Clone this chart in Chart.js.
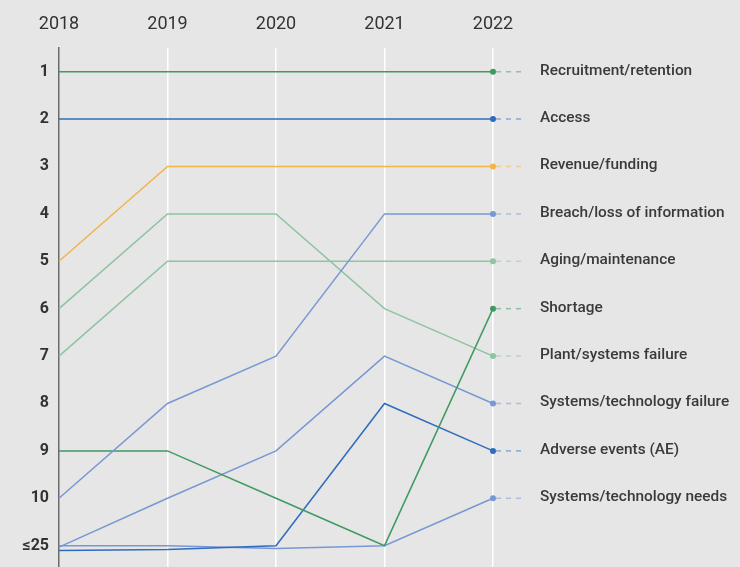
<!DOCTYPE html>
<html>
<head>
<meta charset="utf-8">
<script src="https://cdn.jsdelivr.net/npm/chart.js@4/dist/chart.umd.min.js"></script>
<style>
  html, body { margin: 0; padding: 0; background: #e5e6e5; }
  #wrap { width: 740px; height: 567px; }
</style>
</head>
<body>
<div id="wrap"><canvas id="grafico"></canvas></div>
<script>
const years = ['2018', '2019', '2020', '2021', '2022'];
const rankTicks = [1, 2, 3, 4, 5, 6, 7, 8, 9, 10, 11];
const rankLabels = ['1', '2', '3', '4', '5', '6', '7', '8', '9', '10', '≤25'];

// ranks per year (11 = "≤25", small offsets where lines overlap)
const recruitment = [1, 1, 1, 1, 1];
const access = [2, 2, 2, 2, 2];
const revenue = [5, 3, 3, 3, 3];
const breach = [10, 8, 7, 4, 4];
const aging = [7, 5, 5, 5, 5];
const shortage = [9, 9, 10, 11, 6];
const plantFailure = [6, 4, 4, 6, 7];
const techFailure = [11.03, 10, 9, 7, 8];
const adverse = [11.1, 11.08, 11, 8, 9];
const techNeeds = [11, 11, 11.06, 11, 10];

const seriesNames = ['Recruitment/retention', 'Access', 'Revenue/funding', 'Breach/loss of information',
  'Aging/maintenance', 'Shortage', 'Plant/systems failure', 'Systems/technology failure',
  'Adverse events (AE)', 'Systems/technology needs'];
const seriesData = [recruitment, access, revenue, breach, aging, shortage, plantFailure, techFailure, adverse, techNeeds];

const darkGreen = '#3f9a62';
const blue = '#2f6cbf';
const orange = '#f2b54a';
const lightBlue = '#7898d4';
const lightGreen = '#8cc5a0';
const seriesColors = [darkGreen, blue, orange, lightBlue, lightGreen, darkGreen, lightGreen, lightBlue, blue, lightBlue];

const fondo = {
  id: 'fondo',
  beforeDraw(chart) {
    const ctx = chart.ctx;
    ctx.save();
    ctx.fillStyle = '#e5e6e5';
    ctx.fillRect(0, 0, chart.width, chart.height);
    ctx.restore();
  }
};

// dashed tail + name next to the last point
const etiquetas = {
  id: 'etiquetas',
  afterDatasetsDraw(chart) {
    const ctx = chart.ctx;
    ctx.save();
    chart.data.datasets.forEach((ds, i) => {
      const meta = chart.getDatasetMeta(i);
      const p = meta.data[meta.data.length - 1];
      ctx.strokeStyle = ds.borderColor;
      ctx.globalAlpha = 0.5;
      ctx.lineWidth = 1.5;
      ctx.setLineDash([5, 5]);
      ctx.beginPath();
      ctx.moveTo(p.x + 3, p.y);
      ctx.lineTo(p.x + 31, p.y);
      ctx.stroke();
      ctx.globalAlpha = 1;
      ctx.setLineDash([]);
      ctx.fillStyle = '#3a3a3a';
      ctx.font = '500 15.4px Roboto';
      ctx.textAlign = 'left';
      ctx.textBaseline = 'middle';
      ctx.fillText(ds.label, p.x + 47, p.y - 1);
    });
    ctx.restore();
  }
};

new Chart(document.getElementById('grafico'), {
  type: 'line',
  data: {
    labels: years,
    datasets: seriesData.map((d, i) => ({
      label: seriesNames[i],
      data: d,
      borderColor: seriesColors[i],
      backgroundColor: seriesColors[i],
      borderWidth: 1.5,
      pointRadius: d.map((v, j) => j === d.length - 1 ? 3 : 0),
      pointBorderWidth: 0,
      tension: 0,
      clip: false
    }))
  },
  options: {
    responsive: true,
    maintainAspectRatio: false,
    animation: false,
    layout: { autoPadding: false, padding: { left: 0, right: 247, top: 0, bottom: 0 } },
    plugins: { legend: { display: false }, tooltip: { enabled: false } },
    scales: {
      x: {
        position: 'top',
        offset: false,
        afterFit(scale) {
          scale.height = 48;
          scale.paddingLeft = 0;
          scale.paddingRight = 0;
        },
        grid: {
          color: ctx => ctx.index === 0 ? 'rgba(0,0,0,0)' : '#ffffff',
          lineWidth: 1.5,
          drawTicks: false
        },
        border: { display: false },
        ticks: { color: '#333', font: { family: 'Roboto', size: 18 }, padding: 13, maxRotation: 0 }
      },
      y: {
        reverse: true,
        min: 0.5,
        max: 11.45,
        afterFit(scale) {
          scale.width = 59;
          scale.paddingTop = 0;
          scale.paddingBottom = 0;
        },
        afterBuildTicks(scale) { scale.ticks = rankTicks.map(v => ({ value: v })); },
        grid: { display: false, drawTicks: false },
        border: { display: true, color: '#6b6b6b', width: 1.5 },
        ticks: {
          color: '#333',
          font: { family: 'Roboto', size: 16, weight: 'bold' },
          padding: 10,
          callback: v => rankLabels[rankTicks.indexOf(v)]
        }
      }
    }
  },
  plugins: [fondo, etiquetas]
});
</script>
</body>
</html>
